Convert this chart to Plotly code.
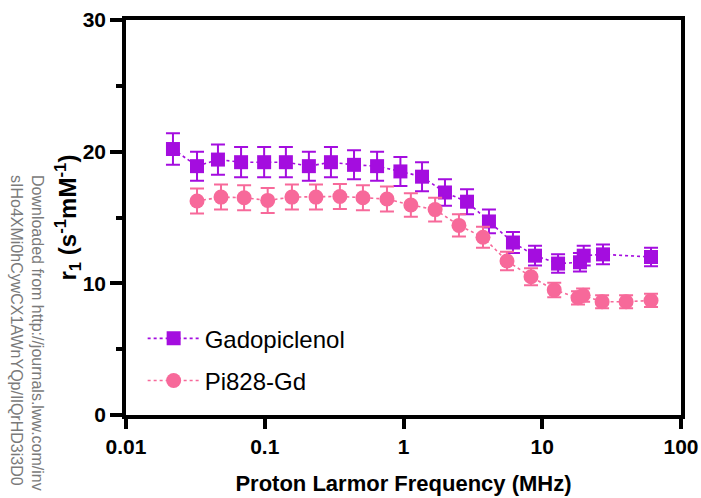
import plotly.graph_objects as go

# Gadopiclenol
gado_freq = [0.0218, 0.0325, 0.046, 0.0675, 0.099, 0.142, 0.208, 0.30, 0.44, 0.645,
             0.95, 1.36, 1.99, 2.87, 4.13, 6.15, 8.87, 13.0, 18.7, 19.9, 27.4, 60.8]
gado_r1 = [20.2, 18.9, 19.4, 19.2, 19.2, 19.2, 18.9, 19.2, 19.0, 18.9,
           18.5, 18.1, 16.9, 16.2, 14.7, 13.1, 12.1, 11.5, 11.6, 12.1, 12.2, 12.0]
gado_err = [1.2, 1.1, 1.15, 1.15, 1.15, 1.15, 1.1, 1.15, 1.1, 1.1,
            1.1, 1.1, 1.0, 0.95, 0.9, 0.8, 0.75, 0.7, 0.7, 0.75, 0.75, 0.7]

# Pi828-Gd
pi_freq = [0.0325, 0.0484, 0.071, 0.105, 0.157, 0.234, 0.348, 0.51, 0.76, 1.13,
           1.69, 2.51, 3.74, 5.57, 8.3, 12.2, 18.1, 19.7, 27.0, 40.2, 60.8]
pi_r1 = [16.25, 16.55, 16.5, 16.3, 16.55, 16.55, 16.6, 16.5, 16.4, 15.95,
         15.6, 14.4, 13.5, 11.7, 10.5, 9.5, 8.9, 9.1, 8.6, 8.6, 8.7]
pi_err = [0.95, 0.95, 0.95, 0.95, 0.95, 0.95, 0.95, 0.95, 0.95, 0.9,
          0.9, 0.85, 0.8, 0.7, 0.65, 0.55, 0.5, 0.5, 0.5, 0.5, 0.5]

x_ticks = [0.01, 0.1, 1, 10, 100]
x_ticklabels = ["0.01", "0.1", "1", "10", "100"]
y_ticks = [0, 10, 20, 30]

PURPLE = "#A40DDF"
PINK = "#F7699A"

fig = go.Figure()
fig.add_trace(go.Scatter(
    x=gado_freq, y=gado_r1, name="Gadopiclenol", mode="lines+markers",
    legendgroup="g1",
    line=dict(color=PURPLE, width=1.6, dash="3px,3px"),
    marker=dict(symbol="square", size=14, color=PURPLE),
    error_y=dict(type="data", array=gado_err, color=PURPLE, thickness=2, width=7),
))
fig.add_trace(go.Scatter(
    x=pi_freq, y=pi_r1, name="Pi828-Gd", mode="lines+markers",
    legendgroup="g2",
    line=dict(color=PINK, width=1.6, dash="3px,3px"),
    marker=dict(symbol="circle", size=15, color=PINK),
    error_y=dict(type="data", array=pi_err, color=PINK, thickness=2, width=7),
))

fig.update_layout(
    width=701, height=498,
    margin=dict(l=126, r=20, t=20, b=83),
    paper_bgcolor="white", plot_bgcolor="white",
    font=dict(family="Arial, Liberation Sans, sans-serif", color="black"),
    showlegend=True,
    legend=dict(x=0.03, y=0.25, xanchor="left", yanchor="top",
                font=dict(size=24, color="black"), bgcolor="rgba(0,0,0,0)",
                tracegroupgap=8, traceorder="grouped", itemwidth=52),
    xaxis=dict(type="log", range=[-2, 2], tickvals=x_ticks, ticktext=x_ticklabels,
               automargin=False,
               showgrid=False, zeroline=False, showline=True, linecolor="black",
               linewidth=3.5, mirror=True, ticks="outside", ticklen=10, tickwidth=3.5,
               tickcolor="black", tickfont=dict(size=21, family="Arial, Liberation Sans",
                                               color="black", weight="bold"),
               title=dict(text="<b>Proton Larmor Frequency (MHz)</b>",
                          font=dict(size=22), standoff=20)),
    yaxis=dict(range=[0, 30], tickvals=y_ticks, showgrid=False, zeroline=False,
               automargin=False,
               showline=True, linecolor="black", linewidth=3.5, mirror=True,
               ticks="outside", ticklen=12, tickwidth=3.5, tickcolor="black",
               minor=dict(dtick=5, ticks="outside", ticklen=6, tickwidth=3.5,
                          tickcolor="black", showgrid=False),
               tickfont=dict(size=21, family="Arial, Liberation Sans",
                             color="black", weight="bold")),
)

fig.add_annotation(
    text="<b>r<sub>1</sub> (s<sup>-1</sup>mM<sup>-1</sup>)</b>",
    xref="paper", yref="paper", x=(67 - 126) / 555, y=0.5,
    xanchor="center", yanchor="middle", textangle=-90, showarrow=False,
    font=dict(size=24, color="black", family="Arial, Liberation Sans"),
)

fig.add_annotation(
    text="Downloaded from http://journals.lww.com/inv<br>sIHo4XMi0hCywCX1AWnYQp/IlQrHD3i3D0",
    xref="paper", yref="paper",
    x=(27 - 126) / 555, y=(415 - 173) / 395,
    xanchor="center", yanchor="top", textangle=90, align="left",
    showarrow=False, font=dict(size=16, color="#7a7a7a", family="Arial, Liberation Sans"),
)

fig.write_html("out.html")
